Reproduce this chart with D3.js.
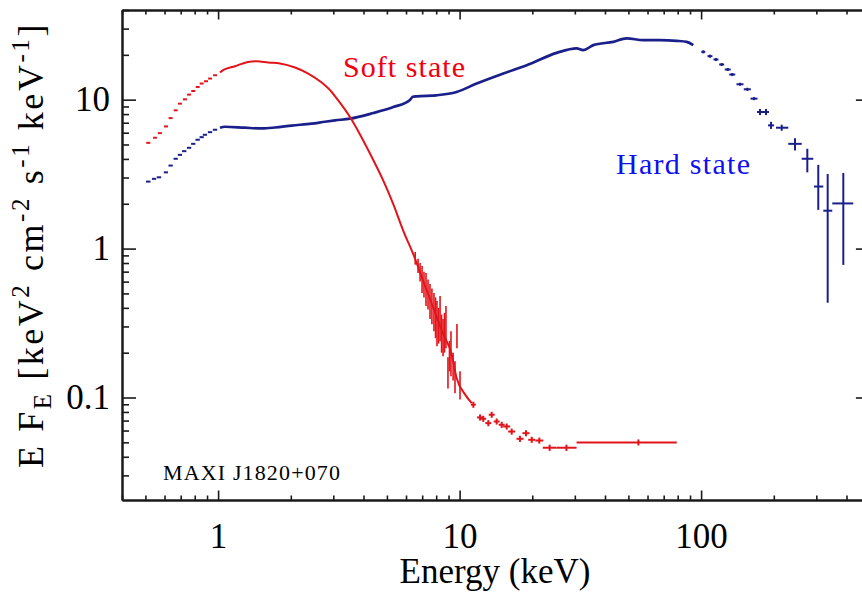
<!DOCTYPE html>
<html><head><meta charset="utf-8">
<script src="https://cdn.jsdelivr.net/npm/d3@7"></script>
<style>
html,body{margin:0;padding:0;background:#fff;}
svg{display:block;}
</style></head>
<body><svg id="c" width="862" height="594" style="font-family:'Liberation Serif',serif"></svg>
<script>
// ---------- axis tick values ----------
const xMajorTicks = [1, 10, 100];
const xMinorTicks = [0.4,0.5,0.6,0.7,0.8,0.9,2,3,4,5,6,7,8,9,20,30,40,50,60,70,80,90,200,300,400,500];
const yMajorTicks = [0.1, 1, 10];
const yMinorTicks = [0.03,0.04,0.05,0.06,0.07,0.08,0.09,0.2,0.3,0.4,0.5,0.6,0.7,0.8,0.9,2,3,4,5,6,7,8,9,20,30,40];
const xTickLabels = ["1", "10", "100"];
const yTickLabels = ["0.1", "1", "10"];

// ---------- Soft state (red) ----------
const softLineE = [1.018,1.048,1.175,1.329,1.445,1.614,1.804,2.082,2.362,2.685,2.953,3.097,3.517,3.868,4.255,4.831,5.313,5.845,6.43,7.07,7.78,8.56,9.27,9.72,10.53,11.22];
const softLineF = [15.21,15.77,16.77,17.93,18.13,17.77,17.49,16.44,14.98,13.02,11.26,10.2,7.64,5.84,4.35,2.86,1.99,1.317,0.917,0.606,0.4006,0.2664,0.1953,0.1352,0.105,0.0918];
const softNoiseE  = [6.55,6.73,6.86,6.99,7.12,7.26,7.40,7.54,7.68,7.83,7.95,8.06,8.18,8.30,8.42,8.54,8.66,8.78,8.95,9.08,9.21,9.40,9.57,9.75,10.04];
const softNoiseLo = [0.78,0.686,0.60,0.503,0.47,0.411,0.39,0.336,0.31,0.279,0.25,0.221,0.23,0.239,0.20,0.189,0.20,0.214,0.115,0.15,0.139,0.13,0.1066,0.214,0.0971];
const softNoiseHi = [0.95,0.853,0.80,0.765,0.70,0.686,0.62,0.579,0.54,0.503,0.47,0.444,0.40,0.480,0.36,0.336,0.37,0.411,0.186,0.24,0.279,0.20,0.175,0.311,0.150];
const softPtsE   = [0.514,0.548,0.574,0.608,0.636,0.667,0.695,0.729,0.758,0.789,0.823,0.855,0.891,0.926,0.971, 11.4,12.15,12.53,13.15,13.58,14.24,14.94,15.67,16.43,17.78,18.83,19.89,21.38,23.6,27.7,55];
const softPtsELo = [0.504,0.538,0.563,0.597,0.624,0.655,0.682,0.715,0.744,0.774,0.808,0.839,0.874,0.909,0.953, 11.13,11.81,12.18,12.78,13.2,13.84,14.52,15.15,15.89,17.2,18.21,19.24,20.58,22.1,25.2,30.5];
const softPtsEHi = [0.524,0.558,0.585,0.620,0.648,0.680,0.708,0.743,0.772,0.804,0.839,0.871,0.908,0.944,0.990, 11.67,12.5,12.89,13.53,13.97,14.65,15.37,16.2,16.99,18.39,19.47,20.57,22.21,25.2,30.5,79.3];
const softPtsF   = [5.13,5.55,5.96,6.61,7.52,8.48,9.40,10.05,10.81,11.43,12.17,12.83,13.29,13.86,14.59, 0.0895,0.0735,0.072,0.0673,0.0766,0.069,0.0656,0.0639,0.0591,0.0528,0.0576,0.052,0.0514,0.046,0.046,0.0499];
const softPtsFLo = [5.13,5.55,5.96,6.61,7.52,8.48,9.40,10.05,10.81,11.43,12.17,12.83,13.29,13.86,14.59, 0.0853,0.0700,0.0686,0.0641,0.0730,0.0658,0.0625,0.0609,0.0563,0.0503,0.0549,0.0496,0.0490,0.0438,0.0438,0.0476];
const softPtsFHi = [5.13,5.55,5.96,6.61,7.52,8.48,9.40,10.05,10.81,11.43,12.17,12.83,13.29,13.86,14.59, 0.0938,0.0770,0.0754,0.0705,0.0802,0.0723,0.0687,0.0669,0.0619,0.0553,0.0603,0.0545,0.0538,0.0482,0.0482,0.0523];

// ---------- Hard state (blue) ----------
const hardLineE = [1.018,1.068,1.292,1.515,1.72,2.017,2.44,2.77,3.05,3.517,4.39,5.313,6.23,6.40,6.64,8.04,9.72,11.77,15.17,18.96,25.23,30.53,32.5,35.78,43.3,49.2,57.6,67.5,79.2,87.2,92.8];
const hardLineF = [6.48,6.58,6.48,6.41,6.50,6.70,6.90,7.11,7.26,7.45,8.13,8.92,9.95,10.45,10.53,10.7,11.26,12.83,14.98,17.03,20.62,22.08,21.5,23.24,24.45,25.78,25.1,25.1,24.84,24.45,23.24];
const hardPtsE   = [0.514,0.543,0.569,0.608,0.636,0.667,0.695,0.724,0.758,0.789,0.823,0.855,0.882,0.926,0.971, 102.1,108.8,115.2,121.7,128.9,134.6,144.9,155.3,165.6,175.3,185.7,194.8,215.7,244.8,275.3,305.6,334.3,388];
const hardPtsELo = [0.503,0.532,0.557,0.596,0.623,0.654,0.681,0.709,0.743,0.773,0.806,0.838,0.864,0.907,0.951, 100.2,106.3,112.5,118.8,125.3,130.8,140.1,150.2,160.2,170.4,180.4,189.3,204.2,229.6,261,293.4,320.6,349.3];
const hardPtsEHi = [0.525,0.554,0.581,0.620,0.649,0.681,0.709,0.739,0.774,0.805,0.840,0.872,0.900,0.945,0.991, 104.0,111.4,118.0,124.6,132.6,138.5,149.8,160.6,171.2,180.4,191.1,200.5,229.6,261,291.4,320.6,349.3,426.7];
const hardPtsF   = [2.817,2.94,3.01,3.25,3.61,4.01,4.26,4.51,4.75,5.05,5.38,5.60,5.81,6.05,6.28, 20.94,19.59,18.61,17.22,15.94,14.75,12.69,11.74,10.16,8.26,8.26,6.72,6.48,5.05,4.01,2.61,1.796,2.01];
const hardPtsFLo = [2.817,2.94,3.01,3.25,3.61,4.01,4.26,4.51,4.75,5.05,5.38,5.60,5.81,6.05,6.28, 20.45,19.13,18.17,16.82,15.57,14.4,12.39,11.46,9.92,7.88,7.88,6.36,6.18,4.56,3.25,1.82,0.433,0.777];
const hardPtsFHi = [2.817,2.94,3.01,3.25,3.61,4.01,4.26,4.51,4.75,5.05,5.38,5.60,5.81,6.05,6.28, 21.44,20.06,19.06,17.63,16.32,15.1,13.0,12.02,10.4,8.66,8.66,7.1,6.79,5.51,4.68,3.65,3.17,3.22];

// ---------- texts ----------
const softLabel = "Soft state";
const hardLabel = "Hard state";
const sourceLabel = "MAXI J1820+070";
const xTitle = "Energy (keV)";

// ---------- drawing ----------
const FONT = "'Liberation Serif', serif";
const svg = d3.select("#c");
const mLeft = 122, mTop = 10, mBottom = 500;
const x = d3.scaleLog().domain([0.4, 500]).range([mLeft, mLeft + 241.5 * Math.log10(500/0.4)]);
const y = d3.scaleLog().domain([0.0205, 40]).range([mBottom, mTop]);
const mRight = x.range()[1];

const RED = "#e2141b", BLUE = "#1b1f8a";
const AX = "#1a1a1a";

function styleAxis(g){
  g.attr("font-family", null);
  g.selectAll(".domain").attr("stroke", AX).attr("stroke-width", 2);
  g.selectAll(".tick line").attr("stroke", AX).attr("stroke-width", 1.6);
  g.selectAll(".tick text").attr("fill", "#000").style("font-size", "35px").style("font-family", FONT);
}

svg.append("g").attr("transform", `translate(0,${mBottom})`)
  .call(d3.axisBottom(x).tickValues(xMinorTicks).tickSizeInner(-4.5).tickSizeOuter(0).tickFormat(""))
  .call(styleAxis);
svg.append("g").attr("transform", `translate(0,${mBottom})`)
  .call(d3.axisBottom(x).tickValues(xMajorTicks).tickSizeInner(-9.5).tickSizeOuter(0).tickPadding(23)
        .tickFormat((d,i)=>xTickLabels[i]))
  .call(styleAxis);
svg.append("g").attr("transform", `translate(0,${mTop})`)
  .call(d3.axisTop(x).tickValues(xMinorTicks).tickSizeInner(-4.5).tickSizeOuter(0).tickFormat(""))
  .call(styleAxis);
svg.append("g").attr("transform", `translate(0,${mTop})`)
  .call(d3.axisTop(x).tickValues(xMajorTicks).tickSizeInner(-9.5).tickSizeOuter(0).tickFormat(""))
  .call(styleAxis);
svg.append("g").attr("transform", `translate(${mLeft},0)`)
  .call(d3.axisLeft(y).tickValues(yMinorTicks).tickSizeInner(-7).tickSizeOuter(0).tickFormat(""))
  .call(styleAxis);
svg.append("g").attr("transform", `translate(${mLeft},0)`)
  .call(d3.axisLeft(y).tickValues(yMajorTicks).tickSizeInner(-14).tickSizeOuter(0).tickPadding(12)
        .tickFormat((d,i)=>yTickLabels[i]))
  .call(styleAxis);
svg.append("g").attr("transform", `translate(${mRight},0)`)
  .call(d3.axisRight(y).tickValues(yMinorTicks).tickSizeInner(-7).tickSizeOuter(0).tickFormat(""))
  .call(styleAxis);
svg.append("g").attr("transform", `translate(${mRight},0)`)
  .call(d3.axisRight(y).tickValues(yMajorTicks).tickSizeInner(-14).tickSizeOuter(0).tickFormat(""))
  .call(styleAxis);

const plot = svg.append("g");
const line = d3.line().x(d=>x(d[0])).y(d=>y(d[1])).curve(d3.curveMonotoneX);

function drawSeries(color, lineE, lineF, ptsE, ptsELo, ptsEHi, ptsF, ptsFLo, ptsFHi, lw){
  const g = plot.append("g").attr("stroke", color).attr("fill", "none");
  g.append("path").datum(lineE.map((e,i)=>[e, lineF[i]]))
    .attr("d", line).attr("stroke-width", lw).attr("stroke-linejoin", "round");
  const pts = ptsE.map((e,i)=>({e, lo:ptsELo[i], hi:ptsEHi[i], f:ptsF[i], flo:ptsFLo[i], fhi:ptsFHi[i]}));
  g.selectAll("line.h").data(pts).join("line").attr("class","h")
    .attr("x1", d=>x(d.lo)).attr("x2", d=>x(d.hi))
    .attr("y1", d=>y(d.f)).attr("y2", d=>y(d.f)).attr("stroke-width", 2);
  g.selectAll("line.v").data(pts.filter(d=>d.fhi>d.flo)).join("line").attr("class","v")
    .attr("x1", d=>x(d.e)).attr("x2", d=>x(d.e))
    .attr("y1", d=>y(d.flo)).attr("y2", d=>y(d.fhi)).attr("stroke-width", 2);
  return g;
}

const gHard = drawSeries(BLUE, hardLineE, hardLineF, hardPtsE, hardPtsELo, hardPtsEHi, hardPtsF, hardPtsFLo, hardPtsFHi, 2.7);
const gSoft = drawSeries(RED, softLineE, softLineF, softPtsE, softPtsELo, softPtsEHi, softPtsF, softPtsFLo, softPtsFHi, 2);
gSoft.selectAll("line.n").data(softNoiseE.map((e,i)=>({e, lo:softNoiseLo[i], hi:softNoiseHi[i]})))
  .join("line").attr("class","n")
  .attr("x1", d=>x(d.e)).attr("x2", d=>x(d.e))
  .attr("y1", d=>y(d.lo)).attr("y2", d=>y(d.hi)).attr("stroke-width", 1.6);

function txt(xp, yp, size, color, s){
  return svg.append("text").attr("x", xp).attr("y", yp).attr("fill", color)
    .style("font-family", FONT).style("font-size", size + "px").text(s);
}
txt(343, 77, 30, "#f00010", softLabel).attr("textLength", 122);
txt(616, 174, 30, "#1010ee", hardLabel).attr("textLength", 134);
txt(163, 480, 22, "#000", sourceLabel).attr("textLength", 177);
txt(495, 583, 35, "#000", xTitle).attr("text-anchor", "middle");

const yt = svg.append("text").attr("transform", "translate(43,245) rotate(-90)")
  .attr("text-anchor", "middle").attr("fill", "#000")
  .style("font-family", FONT).style("font-size", "36px");
function ts(s, size, dy){ const t = yt.append("tspan").text(s); if (size) t.style("font-size", size+"px"); if (dy) t.attr("dy", dy); return t; }
ts("E F");
ts("E", 25, 8);
ts(" [keV", null, -8);
ts("2", 25, -14);
ts(" cm", null, 14);
ts("-2", 25, -14);
ts(" s", null, 14);
ts("-1", 25, -14);
ts(" keV", null, 14);
ts("-1", 25, -14);
ts("]", null, 14);
const target = 446;
const len = yt.node().getComputedTextLength();
const nChars = yt.text().length;
if (len < target) yt.attr("letter-spacing", (target - len) / nChars);
</script>
</body></html>
